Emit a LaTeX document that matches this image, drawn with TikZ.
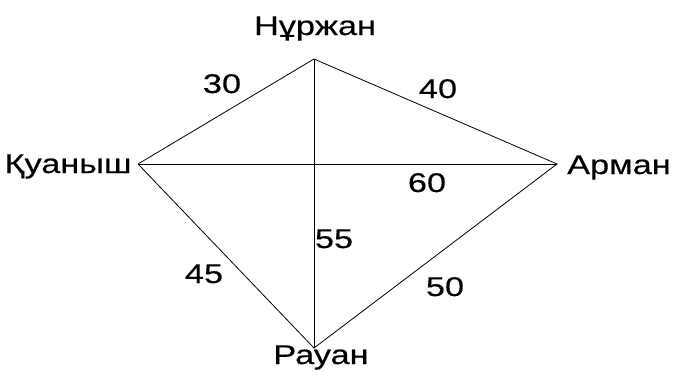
\documentclass[tikz,border=0pt]{standalone}
\usepackage{fontspec}
\setmainfont{Liberation Sans}[FakeStretch=1.27, FakeBold=0.4]
\usepackage{tikz}
\usetikzlibrary{positioning}

\begin{document}
\begin{tikzpicture}[x=1pt, y=-1pt,
      edge/.style={draw=black, line width=0.8pt},
      person/.style={font=\fontsize{27}{30}\selectfont, anchor=base, inner sep=0pt},
      weight/.style={font=\fontsize{27}{30}\selectfont, anchor=base, inner sep=0pt}]
      \useasboundingbox (0,0) rectangle (673,372);
      % vertices
      \coordinate (nurzhan) at (314,59);
      \coordinate (kuanysh) at (138,164);
      \coordinate (arman) at (557,164);
      \coordinate (rauan) at (314,348);
      % names
      \node[person] (nurzhanlbl) at (315,35) {Нұржан};
      \node[person] (kuanyshlbl) at (68,173) {Қуаныш};
      \node[person] (armanlbl) at (619,174) {Арман};
      \node[person] (rauanlbl) at (321,364) {Рауан};
      % edges
      \draw[edge] (kuanysh) -- (nurzhan) -- (arman) -- (rauan) -- (kuanysh);
      \draw[edge] (kuanysh) -- (arman);
      \draw[edge] (nurzhan) -- (rauan);
      % weights
      \node[weight] (w30) at (222,93) {30};
      \node[weight] (w40) at (438,98) {40};
      \node[weight] (w60) at (427,192) {60};
      \node[weight] (w55) at (334,248) {55};
      \node[weight] (w45) at (204,283) {45};
      \node[weight] (w50) at (445,296) {50};
    \end{tikzpicture}
\end{document}
